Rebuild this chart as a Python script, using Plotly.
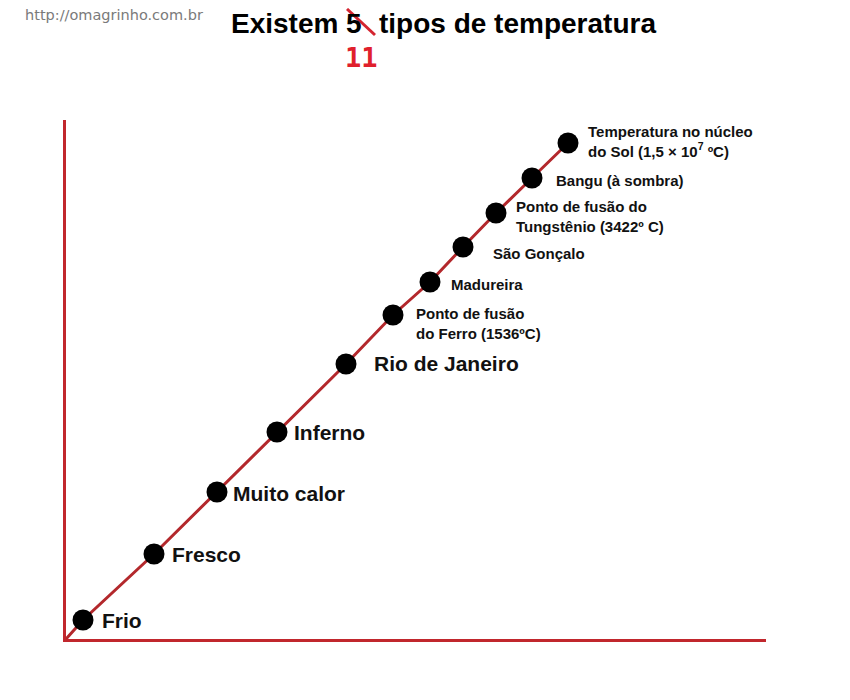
import plotly.graph_objects as go

# ---- data (position along the "temperature" scale) ----
labels = [
    "Frio",
    "Fresco",
    "Muito calor",
    "Inferno",
    "Rio de Janeiro",
    "Ponto de fusão<br>do Ferro (1536ºC)",
    "Madureira",
    "São Gonçalo",
    "Ponto de fusão do<br>Tungstênio (3422º C)",
    "Bangu (à sombra)",
    "Temperatura no núcleo<br>do Sol (1,5 × 10<sup>7</sup> ºC)",
]
x_vals = [17, 88, 151, 211, 280, 327, 364, 397, 430, 466, 502]
y_vals = [19, 85, 147, 207, 275, 324, 357, 392, 426, 461, 496]

title_parts = ["Existem", "5", "tipos de temperatura"]
correction = "11"
watermark = "http://omagrinho.com.br"

# ---- styling ----
label_size = [21, 21, 21, 21, 21, 15, 15, 15, 15, 15, 15]
label_dx = [17, 16, 14, 15, 26, 21, 19, 28, 18, 22, 18]
label_dy = [0, 0, -1, 0, 1, -8, -2, -6, -3, -2, 2]

OFF = 8                      # page body margin in the browser
W, H = 850 - OFF, 700 - OFF
L, T = 66 - OFF, 120 - OFF
R = W - (766 - OFF)
B = H - (639 - OFF)
PW, PH = W - L - R, H - T - B


def px(x):
    """reference-image x pixel -> paper coordinate"""
    return (x - OFF - L) / PW


def py(y):
    """reference-image y pixel -> paper coordinate"""
    return (H - B - (y - OFF)) / PH


AXIS_RED = "#c1272d"
LINE_RED = "#b3282c"
FONT = "Liberation Sans, Arial, sans-serif"

fig = go.Figure()

# diagonal line from the origin through all points
fig.add_trace(go.Scatter(
    x=[0] + x_vals, y=[0] + y_vals, mode="lines",
    line=dict(color=LINE_RED, width=3), hoverinfo="skip", showlegend=False,
))
# dots
fig.add_trace(go.Scatter(
    x=x_vals, y=y_vals, mode="markers",
    marker=dict(color="black", size=21, line=dict(width=0)),
    cliponaxis=False, showlegend=False,
))

annotations = []
for lab, x, y, s, dx, dy in zip(labels, x_vals, y_vals, label_size, label_dx, label_dy):
    annotations.append(dict(
        x=x, y=y, xref="x", yref="y", text=lab, showarrow=False,
        xanchor="left", yanchor="middle", align="left",
        xshift=dx, yshift=dy,
        font=dict(family=FONT, size=s, color="#111111", weight="bold"),
    ))

# title, in three pieces so the struck-out "5" sits where it does in the original
title_font = dict(family=FONT, size=28, color="#000000", weight="bold")
annotations.append(dict(
    x=px(340), y=py(23), xref="paper", yref="paper", text=title_parts[0],
    showarrow=False, xanchor="right", yanchor="middle", font=title_font,
))
annotations.append(dict(
    x=px(354), y=py(23), xref="paper", yref="paper", text=title_parts[1],
    showarrow=False, xanchor="center", yanchor="middle", font=title_font,
))
annotations.append(dict(
    x=px(377), y=py(23), xref="paper", yref="paper", text=title_parts[2],
    showarrow=False, xanchor="left", yanchor="middle", font=title_font,
))
# red correction
annotations.append(dict(
    x=px(361), y=py(57), xref="paper", yref="paper", text=correction,
    showarrow=False, xanchor="center", yanchor="middle",
    font=dict(family="DejaVu Sans Mono", size=27, color="#e0202c", weight="bold"),
))
# watermark
annotations.append(dict(
    x=px(23), y=py(15), xref="paper", yref="paper", text=watermark,
    showarrow=False, xanchor="left", yanchor="middle",
    font=dict(family="DejaVu Sans, Verdana, sans-serif", size=14.5, color="#7a7a7a"),
))

shapes = [
    dict(type="line", xref="paper", yref="paper",
         x0=px(347), y0=py(9), x1=px(375), y1=py(35),
         line=dict(color="#d42530", width=3)),
]

fig.update_layout(
    width=W, height=H,
    margin=dict(l=L, r=R, t=T, b=B),
    paper_bgcolor="white", plot_bgcolor="white",
    showlegend=False,
    annotations=annotations,
    shapes=shapes,
    xaxis=dict(range=[0, PW], showgrid=False, zeroline=False, showticklabels=False,
               ticks="", showline=True, linecolor=AXIS_RED, linewidth=3, fixedrange=True),
    yaxis=dict(range=[0, PH], showgrid=False, zeroline=False, showticklabels=False,
               ticks="", showline=True, linecolor=AXIS_RED, linewidth=3, fixedrange=True),
)

fig.write_html("out.html")
